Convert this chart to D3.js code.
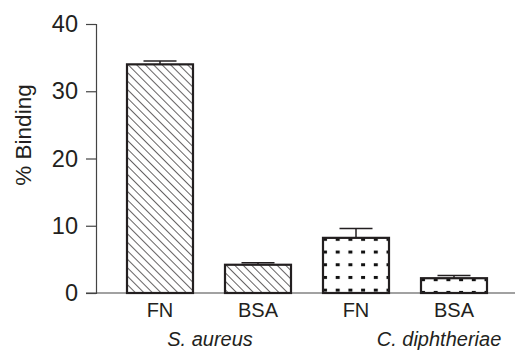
<!DOCTYPE html>
<meta charset="utf-8">
<body style="margin:0;background:#fff">
<script src="https://cdnjs.cloudflare.com/ajax/libs/d3/7.8.5/d3.min.js"></script>
<script>
// data
var labels = ['FN', 'BSA', 'FN', 'BSA']
var values = [34.0, 4.2, 8.2, 2.2]
var errors = [0.5, 0.3, 1.4, 0.4]
var fills = ['hatch', 'hatch', 'dots', 'dots']
var species = ['S. aureus', 'C. diphtheriae']
var yTicks = [0, 10, 20, 30, 40]

var W = 515, H = 351
var ink = '#231f20'
var svg = d3.select('body').append('svg')
  .attr('width', W).attr('height', H)
  .style('font-family', 'Liberation Sans, Arial, sans-serif')

var y = d3.scaleLinear().domain([0, 40]).range([293, 24])
var x = d3.scaleBand().domain(d3.range(labels.length))
  .range([111, 503]).paddingInner(32 / 98).paddingOuter(16 / 98)

// one pattern per bar so it starts at the bar's top-left corner
var defs = svg.append('defs')
labels.forEach((l, i) => {
  var x0 = x(i), y0 = y(values[i])
  if (fills[i] == 'hatch') {
    var p = defs.append('pattern').attr('id', 'p' + i)
      .attr('patternUnits', 'userSpaceOnUse')
      .attr('width', 6).attr('height', 6)
      .attr('patternTransform', `translate(${x0},${y0}) rotate(-45)`)
    p.append('line').attr('x1', 0).attr('y1', -1).attr('x2', 0).attr('y2', 7)
      .attr('stroke', ink).attr('stroke-width', 1.4)
  } else {
    var p = defs.append('pattern').attr('id', 'p' + i)
      .attr('patternUnits', 'userSpaceOnUse')
      .attr('width', 12.7).attr('height', 12.7)
      .attr('patternTransform', `translate(${x0 + 1},${y0})`)
    p.append('rect').attr('x', 0).attr('y', 0)
      .attr('width', 3).attr('height', 3).attr('fill', '#111')
    p.append('rect').attr('x', 11.7).attr('y', 0)
      .attr('width', 1).attr('height', 3).attr('fill', '#111')
  }
})

// y axis
var ya = svg.append('g').attr('transform', 'translate(96,0)')
  .call(d3.axisLeft(y).tickValues(yTicks).tickSize(10).tickPadding(8))
ya.select('.domain').attr('stroke', '#444').attr('stroke-width', 1.2)
ya.selectAll('.tick line').attr('stroke', '#444').attr('stroke-width', 1.2)
ya.selectAll('.tick text').attr('font-size', 23.5).attr('fill', ink)
  .attr('font-family', 'Liberation Sans, Arial, sans-serif')

// x baseline
svg.append('line').attr('x1', 86).attr('x2', W).attr('y1', y(0)).attr('y2', y(0))
  .attr('stroke', '#444').attr('stroke-width', 1.2)

svg.append('text').text('% Binding')
  .attr('transform', 'translate(31,135) rotate(-90)')
  .attr('text-anchor', 'middle').attr('font-size', 22.5).attr('fill', ink)

// error bars (upper only)
labels.forEach((l, i) => {
  var cx = x(i) + x.bandwidth() / 2
  var g = svg.append('g').attr('stroke', ink).attr('stroke-width', 1.5)
  g.append('line').attr('x1', cx).attr('x2', cx)
    .attr('y1', y(values[i])).attr('y2', y(values[i] + errors[i]))
  g.append('line').attr('x1', cx - 16.5).attr('x2', cx + 16.5)
    .attr('y1', y(values[i] + errors[i])).attr('y2', y(values[i] + errors[i]))
})

// bars
svg.selectAll('.bar').data(values).enter().append('rect')
  .attr('x', (d, i) => x(i)).attr('width', x.bandwidth())
  .attr('y', d => y(d)).attr('height', d => y(0) - y(d))
  .attr('fill', (d, i) => 'url(#p' + i + ')')
  .attr('stroke', ink).attr('stroke-width', 2.2)

// category labels
svg.selectAll('.cat').data(labels).enter().append('text')
  .text(d => d)
  .attr('x', (d, i) => x(i) + x.bandwidth() / 2).attr('y', 316.5)
  .attr('text-anchor', 'middle').attr('font-size', 20).attr('fill', ink)

var spX = [210, 439]
svg.selectAll('.sp').data(species).enter().append('text')
  .text(d => d)
  .attr('x', (d, i) => spX[i]).attr('y', 346)
  .attr('text-anchor', 'middle').attr('font-size', 20)
  .attr('font-style', 'italic').attr('fill', ink)
</script>
</body>
</html>
